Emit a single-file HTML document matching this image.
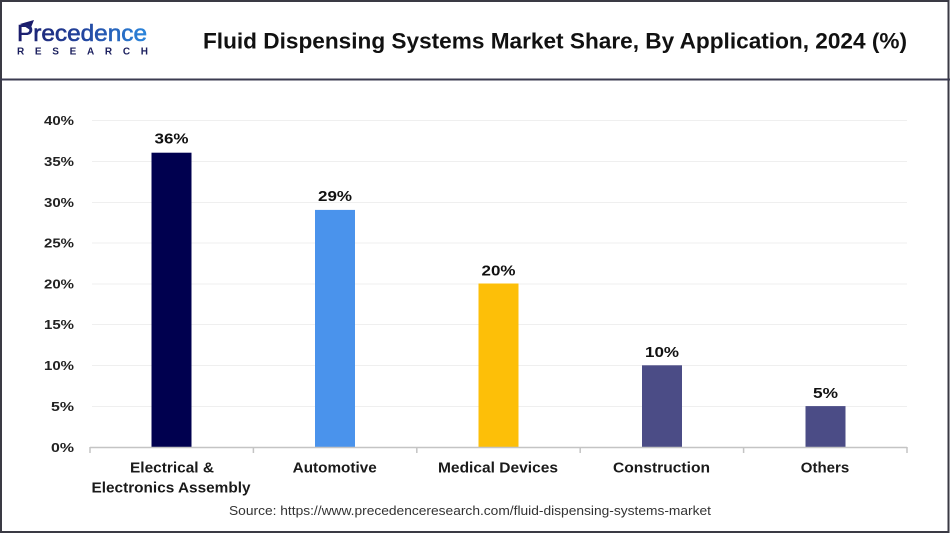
<!DOCTYPE html>
<html><head><meta charset="utf-8"><style>
html,body{margin:0;padding:0;background:#fff;}
svg{display:block;}
text{font-family:"Liberation Sans",Arial,sans-serif;}
</style></head><body>
<svg width="950" height="534" viewBox="0 0 950 534" xmlns="http://www.w3.org/2000/svg">
<defs>
<linearGradient id="lg" x1="0" y1="0" x2="1" y2="0">
<stop offset="0" stop-color="#1b1c6b"/><stop offset="0.5" stop-color="#23449e"/><stop offset="1" stop-color="#2b86dc"/>
</linearGradient>
</defs>
<rect x="0" y="0" width="950" height="534" fill="#fff"/>
<rect x="1" y="1" width="947.5" height="531" fill="none" stroke="#3a3a44" stroke-width="2"/>
<line x1="0" y1="79.5" x2="950" y2="79.5" stroke="#3b3b50" stroke-width="2"/>
<!-- logo -->
<path d="M20 24 L34 20 L30 30 Q26 27 20 24 Z" fill="#1b1c6b"/>
<text x="17" y="41" font-size="23" fill="url(#lg)" stroke="url(#lg)" stroke-width="0.6" textLength="130" lengthAdjust="spacingAndGlyphs">Precedence</text>
<text x="17" y="54.5" font-size="10" font-weight="bold" fill="#1b1f5e" textLength="131" lengthAdjust="spacing">RESEARCH</text>
<!-- title -->
<text x="203" y="48.5" font-size="22" font-weight="bold" fill="#111" textLength="704" lengthAdjust="spacingAndGlyphs">Fluid Dispensing Systems Market Share, By Application, 2024 (%)</text>
<!-- gridlines -->
<g stroke="#efefef" stroke-width="1">
<line x1="92" y1="120.5" x2="907" y2="120.5"/>
<line x1="92" y1="161.5" x2="907" y2="161.5"/>
<line x1="92" y1="202.5" x2="907" y2="202.5"/>
<line x1="92" y1="243" x2="907" y2="243"/>
<line x1="92" y1="284" x2="907" y2="284"/>
<line x1="92" y1="324.5" x2="907" y2="324.5"/>
<line x1="92" y1="365.5" x2="907" y2="365.5"/>
<line x1="92" y1="406.5" x2="907" y2="406.5"/>
</g>
<!-- y labels -->
<g font-size="13" font-weight="bold" fill="#222" text-anchor="end">
<text x="74" y="125" textLength="30" lengthAdjust="spacingAndGlyphs">40%</text>
<text x="74" y="166" textLength="30" lengthAdjust="spacingAndGlyphs">35%</text>
<text x="74" y="207" textLength="30" lengthAdjust="spacingAndGlyphs">30%</text>
<text x="74" y="247.5" textLength="30" lengthAdjust="spacingAndGlyphs">25%</text>
<text x="74" y="288.5" textLength="30" lengthAdjust="spacingAndGlyphs">20%</text>
<text x="74" y="329" textLength="30" lengthAdjust="spacingAndGlyphs">15%</text>
<text x="74" y="370" textLength="30" lengthAdjust="spacingAndGlyphs">10%</text>
<text x="74" y="411" textLength="23" lengthAdjust="spacingAndGlyphs">5%</text>
<text x="74" y="452" textLength="23" lengthAdjust="spacingAndGlyphs">0%</text>
</g>
<!-- bars -->
<rect x="151.5" y="152.7" width="40" height="294.3" fill="#00004f"/>
<rect x="315" y="209.9" width="40" height="237.1" fill="#4a93ec"/>
<rect x="478.5" y="283.5" width="40" height="163.5" fill="#fdbf08"/>
<rect x="642" y="365.3" width="40" height="81.7" fill="#4b4c86"/>
<rect x="805.5" y="406.1" width="40" height="40.9" fill="#4b4c86"/>
<!-- axis -->
<g stroke="#c4c4c4" stroke-width="1.5">
<line x1="90" y1="447.5" x2="907" y2="447.5"/>
<line x1="90" y1="447" x2="90" y2="453"/>
<line x1="253.4" y1="447" x2="253.4" y2="453"/>
<line x1="416.8" y1="447" x2="416.8" y2="453"/>
<line x1="580.2" y1="447" x2="580.2" y2="453"/>
<line x1="743.6" y1="447" x2="743.6" y2="453"/>
<line x1="907" y1="447" x2="907" y2="453"/>
</g>
<!-- data labels -->
<g font-size="15" font-weight="bold" fill="#111" text-anchor="middle">
<text x="171.5" y="143.5" textLength="34" lengthAdjust="spacingAndGlyphs">36%</text>
<text x="335" y="200.8" textLength="34" lengthAdjust="spacingAndGlyphs">29%</text>
<text x="498.5" y="275.5" textLength="34" lengthAdjust="spacingAndGlyphs">20%</text>
<text x="662" y="357" textLength="34" lengthAdjust="spacingAndGlyphs">10%</text>
<text x="825.5" y="398" textLength="25" lengthAdjust="spacingAndGlyphs">5%</text>
</g>
<!-- x labels -->
<g font-size="14.5" font-weight="bold" fill="#1a1a1a" text-anchor="middle">
<text x="172" y="472.5" textLength="84" lengthAdjust="spacingAndGlyphs">Electrical &amp;</text>
<text x="171" y="492.5" textLength="159" lengthAdjust="spacingAndGlyphs">Electronics Assembly</text>
<text x="334.7" y="472.5" textLength="84" lengthAdjust="spacingAndGlyphs">Automotive</text>
<text x="498" y="472.5" textLength="120" lengthAdjust="spacingAndGlyphs">Medical Devices</text>
<text x="661.5" y="472.5" textLength="97" lengthAdjust="spacingAndGlyphs">Construction</text>
<text x="825" y="472.5" textLength="48.5" lengthAdjust="spacingAndGlyphs">Others</text>
</g>
<!-- source -->
<text x="229" y="515" font-size="13" fill="#333" textLength="482" lengthAdjust="spacingAndGlyphs">Source: https://www.precedenceresearch.com/fluid-dispensing-systems-market</text>
</svg>
</body></html>
